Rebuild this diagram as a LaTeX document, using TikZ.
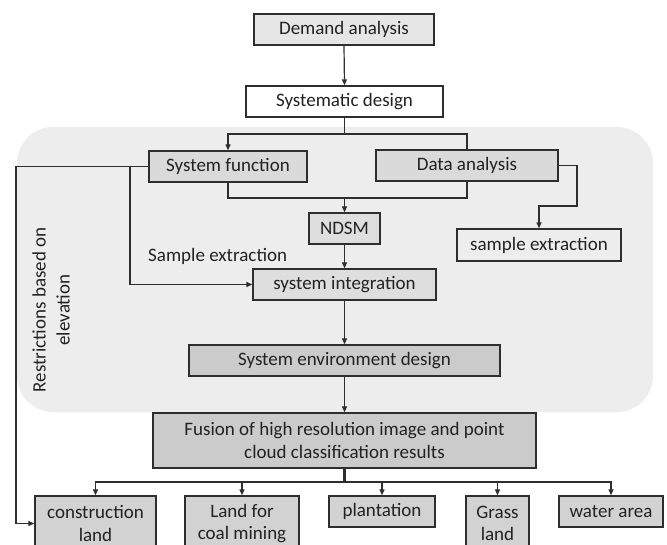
\documentclass[tikz,border=0pt]{standalone}
\usepackage{fontspec}
\setmainfont{Carlito}
\usetikzlibrary{arrows.meta}
\definecolor{bgc}{HTML}{EDEDED}
\definecolor{linec}{HTML}{2E2E2E}
\definecolor{txt}{HTML}{222222}
\definecolor{fa}{HTML}{E6E6E6}
\definecolor{fb}{HTML}{DADADA}
\definecolor{fc}{HTML}{DEDEDE}
\definecolor{fd}{HTML}{CBCBCB}
\definecolor{fe}{HTML}{D2D2D2}
\tikzset{
  box/.style={draw=linec, line width=1.3pt, inner sep=0pt, minimum height=31pt, text=txt, align=center,
    font=\fontsize{19}{22.5}\selectfont},
  conn/.style={draw=linec, line width=1.2pt},
  arr/.style={-{Triangle[length=6pt,width=5pt]}},
}
\begin{document}
\begin{tikzpicture}[x=1pt,y=-1pt]
\useasboundingbox (0,0) rectangle (667,545);
\clip (0,0) rectangle (667,545);
\fill[bgc, rounded corners=36pt] (17,127) rectangle (653,412);

\node[box, fill=fa, minimum width=180pt] (da0) at (344,29.5) {Demand analysis};
\node[box, fill=white, minimum width=197pt] (sd) at (344.5,101.5) {Systematic design};
\node[box, fill=fb, minimum width=158pt] (sf) at (228,166.5) {System function};
\node[box, fill=fb, minimum width=182pt] (da) at (467,165.5) {Data analysis};
\node[box, fill=fc, minimum width=71pt] (nd) at (344.5,228.5) {NDSM};
\node[box, fill=bgc, minimum width=164pt, minimum height=32pt] (se) at (539,245) {sample extraction};
\node[text=txt, anchor=west, inner sep=0pt, font=\fontsize{19}{22.5}\selectfont] (lbl) at (148,256) {Sample extraction};
\node[box, fill=fc, minimum width=183pt] (si) at (344.5,284.5) {system integration};
\node[box, fill=fd, minimum width=311pt] (sed) at (344.5,360.5) {System environment design};
\node[box, fill=fd, minimum width=383pt, minimum height=55pt] (fu) at (344.5,440.5) {Fusion of high resolution image and point\\cloud classification results};
\node[text=txt, rotate=90, align=center, inner sep=0pt, font=\fontsize{19}{24}\selectfont] (rl) at (51,310) {Restrictions based on\\elevation};

\node[box, fill=fe, minimum width=121pt, minimum height=55pt] (cl) at (95.5,523.5) {construction\\land};
\node[box, fill=fe, minimum width=114pt, minimum height=55pt] (cm) at (242,523.5) {Land for\\coal mining};
\node[box, fill=fe, minimum width=106pt] (pl) at (382,511.5) {plantation};
\node[box, fill=fe, minimum width=63pt, minimum height=55pt] (gl) at (497.5,523.5) {Grass\\land};
\node[box, fill=fe, minimum width=104pt] (wa) at (611,511.5) {water area};

% connectors
\draw[conn, arr] (da0.south) -- (sd.north);
\coordinate (j1) at (344.5,134);
\draw[conn] (sd.south) -- (j1);
\draw[conn, arr] (j1) -| (sf.north);
\draw[conn] (j1) -| (da.north);
\coordinate (j2) at (344.5,198);
\draw[conn] (sf.south) |- (j2) -| (da.south);
\draw[conn, arr] (j2) -- (nd.north);
\draw[conn, arr] (nd.south) -- (si.north);
\coordinate (c1) at (577,165.5);
\coordinate (c2) at (577,206);
\draw[conn, arr] (da.east) -- (c1) -- (c2) -| (se.north);
\coordinate (l1) at (16,166.5);
\coordinate (l2) at (16,523.5);
\draw[conn, arr] (sf.west) -- (l1) -- (l2) -- (cl.west);
\coordinate (b1) at (130,166.5);
\coordinate (b2) at (130,284.5);
\draw[conn, arr] (b1) -- (b2) -- (si.west);
\draw[conn, arr] (si.south) -- (sed.north);
\draw[conn, arr] (sed.south) -- (fu.north);
\coordinate (j3) at (344.5,482);
\draw[conn, line width=2.4pt] (fu.south) -- (j3);
\draw[conn, arr] (j3) -| (cl.north);
\draw[conn, arr] (j3) -| (cm.north);
\draw[conn, arr] (j3) -| (pl.north);
\draw[conn, arr] (j3) -| (gl.north);
\draw[conn, arr] (j3) -| (wa.north);
\end{tikzpicture}
\end{document}
